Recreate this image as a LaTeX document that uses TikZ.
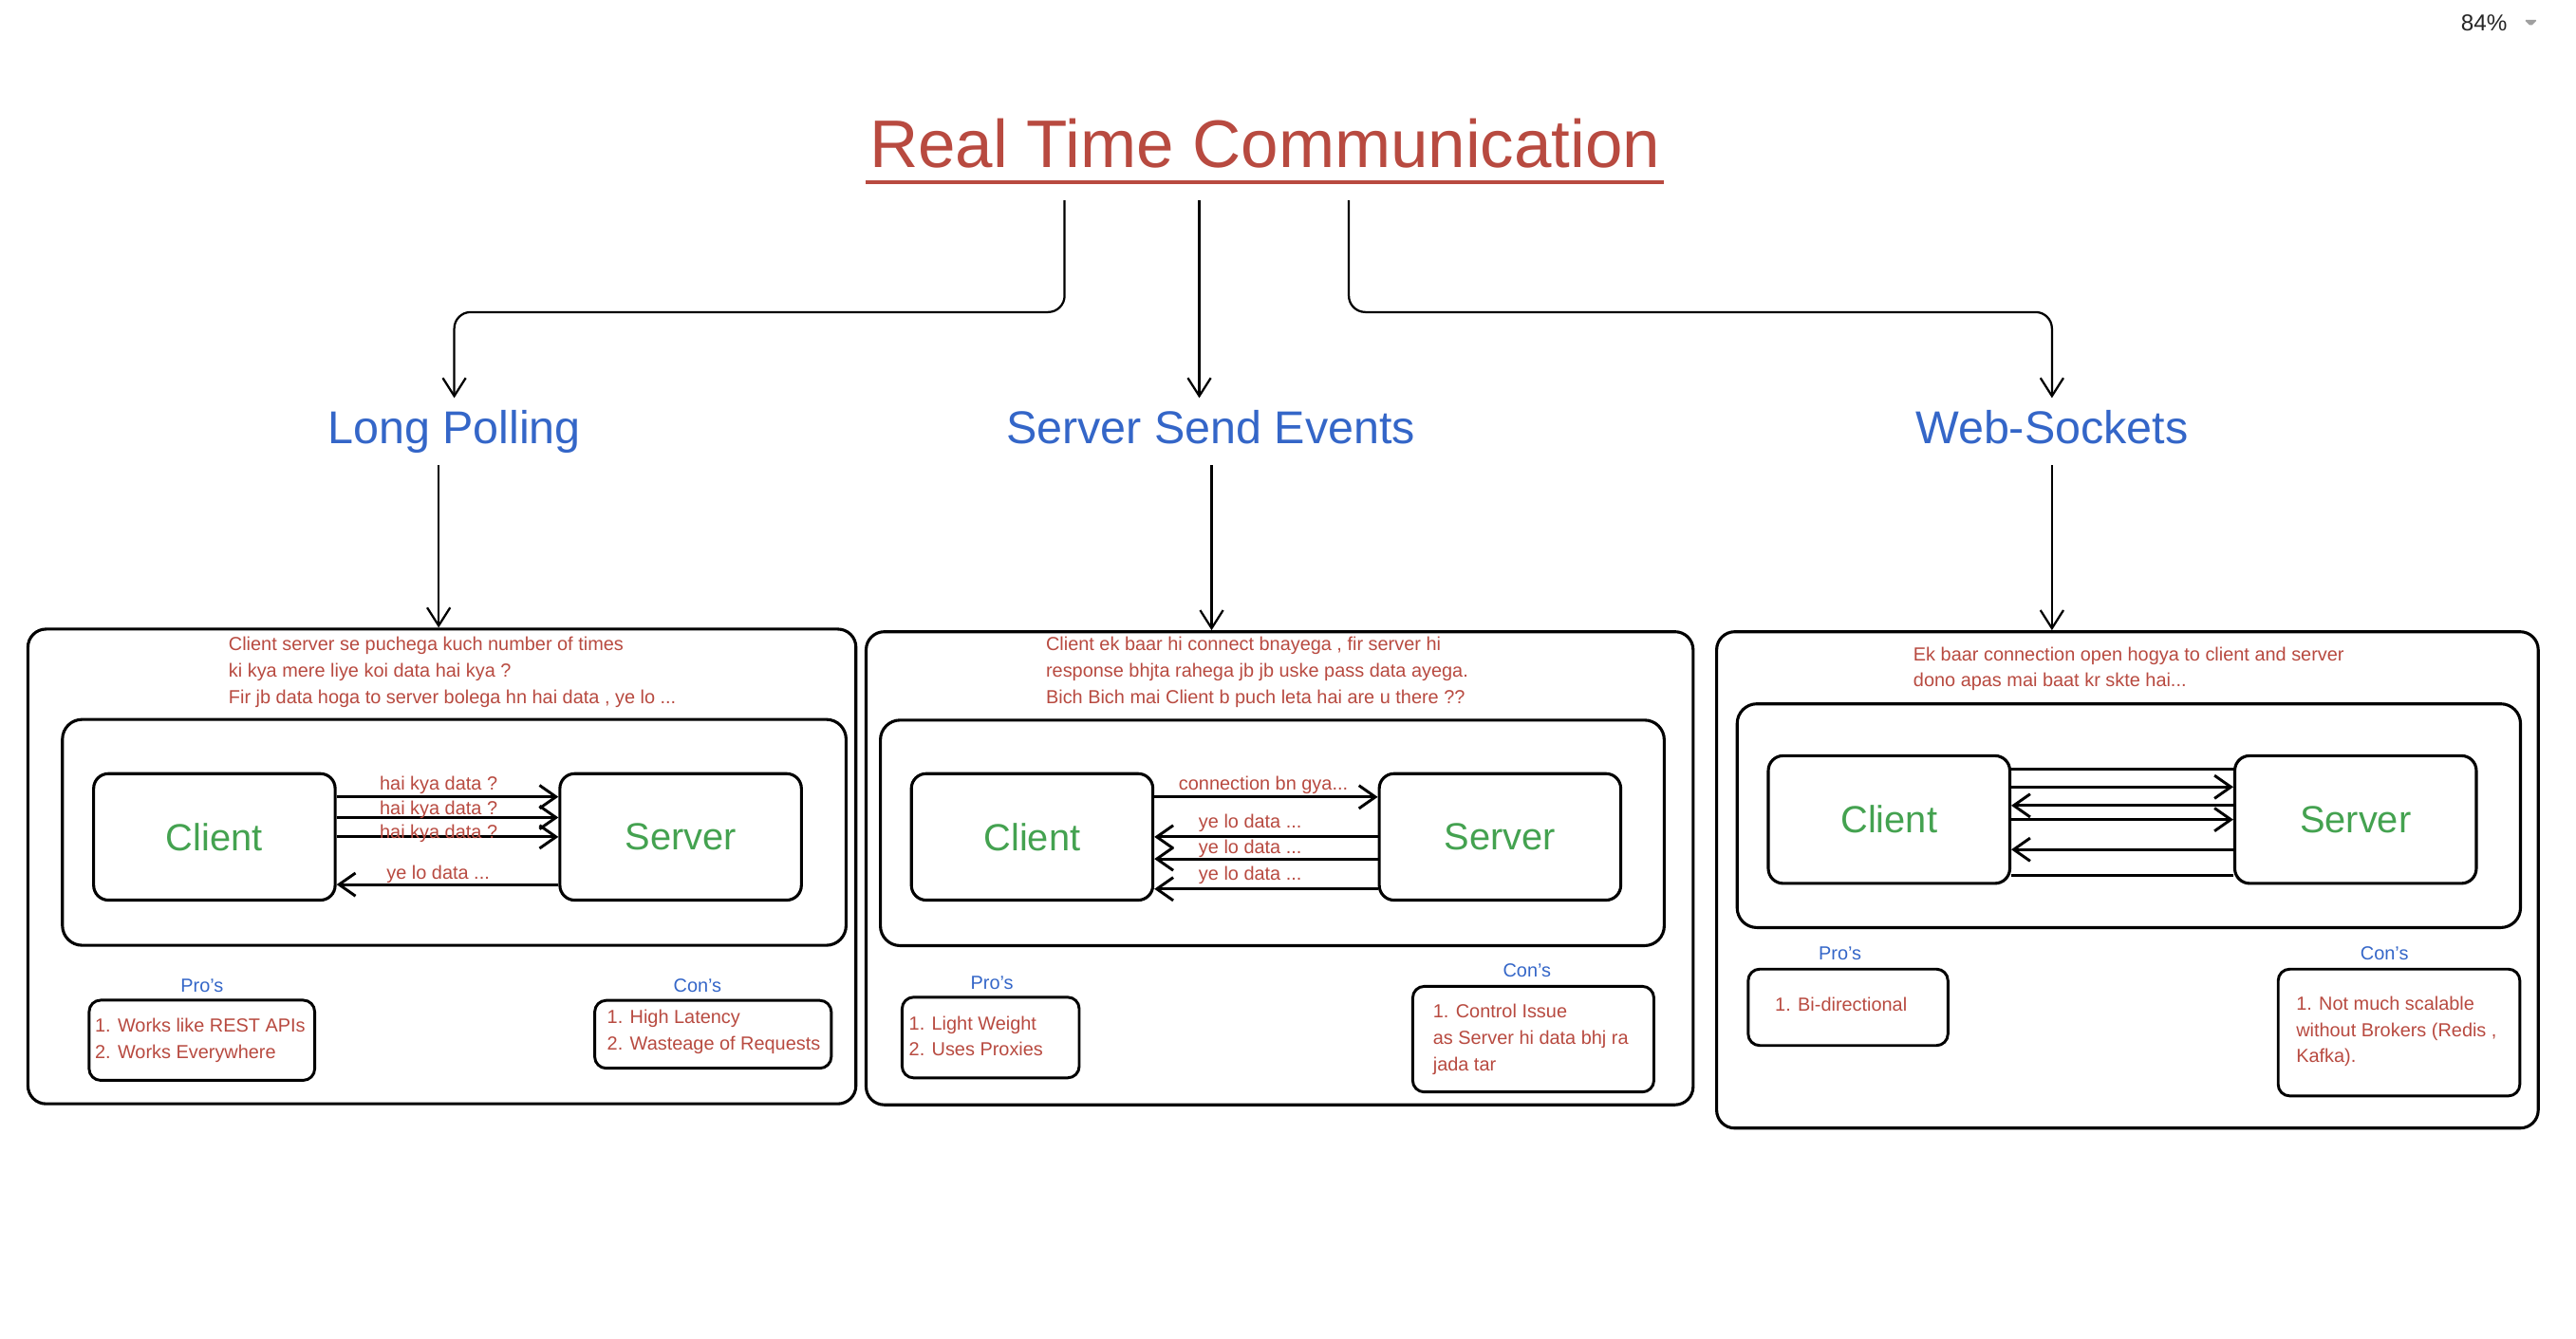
\documentclass[tikz,border=0pt]{standalone}
\usepackage{fontspec}
\setmainfont{Liberation Sans}
\usetikzlibrary{arrows.meta}
\definecolor{myred}{RGB}{184,74,64}
\definecolor{myblue}{RGB}{52,102,200}
\definecolor{mygreen}{RGB}{68,162,80}
\definecolor{uigray}{RGB}{160,160,160}
\tikzset{
  ttl/.style={font=\fontsize{41}{49}\selectfont, text=myred, inner sep=0pt},
  head/.style={font=\fontsize{28}{34}\selectfont, text=myblue, inner sep=7pt, text height=20.5pt, text depth=6pt},
  cs/.style={draw, line width=1.8pt, rounded corners=9pt, minimum width=147pt, minimum height=77pt, inner sep=0pt, font=\fontsize{23}{28}\selectfont, text=mygreen},
  bigbox/.style={draw, line width=1.8pt, rounded corners=11pt, inner sep=0pt},
  midbox/.style={draw, line width=1.8pt, rounded corners=12pt, inner sep=0pt},
  listbox/.style={draw, line width=1.7pt, rounded corners=7pt, inner sep=0pt},
  small/.style={font=\fontsize{11.5}{16}\selectfont, text=myred, inner sep=0pt, align=left},
  lbl/.style={font=\fontsize{11.5}{14}\selectfont, text=myred, inner sep=0pt},
  pc/.style={font=\fontsize{11.5}{14}\selectfont, text=myblue, inner sep=0pt},
  arr/.style={line width=1.7pt, -{Straight Barb[length=10pt,width=14pt]}},
  plainln/.style={line width=1.7pt},
  conn/.style={line width=1.3pt, rounded corners=10pt, -{Straight Barb[length=11pt,width=14pt]}},
}
\begin{document}
\begin{tikzpicture}[x=1pt, y=-1pt]
\fill[white] (0,0) rectangle (1568,815);
\useasboundingbox (0,0) rectangle (1568,815);

% UI zoom indicator
\node[font=\fontsize{14}{16}\selectfont, text=black!85, inner sep=0pt, anchor=base] (zoomtxt) at (1512,19) {84\%};
\fill[uigray, rounded corners=1pt] (1536.5,12) -- (1544.5,12) -- (1540.5,16) -- cycle;

% Title
\node[ttl, anchor=base] (title) at (770,102) {Real Time Communication};
\draw[myred, line width=2.6pt] (527,111) -- (1013,111);

% Headings
\node[head, anchor=base] (lp) at (276.5,270) {Long Polling};
\node[head, anchor=base] (sse) at (737,270) {Server Send Events};
\node[head, anchor=base] (ws) at (1249,270) {Web-Sockets};

\coordinate (t1) at (648,122);
\coordinate (t2) at (730,122);
\coordinate (t3) at (821,122);
\draw[conn] (t1) -- (648,190) -- (276.5,190) -- (lp.north);
\draw[conn] (t2) -- (t2 |- sse.north);
\draw[conn] (t3) -- (821,190) -- (1249,190) -- (ws.north);

% ================= Long Polling =================
\node[bigbox, minimum width=504pt, minimum height=289pt] (lpbox) at (269,527.5) {};
\node[small, anchor=base west] (lpdesc) at (139,428.1) {Client server se puchega kuch number of times\\ki kya mere liye koi data hai kya ?\\Fir jb data hoga to server bolega hn hai data , ye lo ...};
\node[midbox, minimum width=477pt, minimum height=137.5pt] (lpin) at (276.5,506.75) {};
\node[cs] (lpc) at (130.5,509.5) {Client};
\node[cs] (lps) at (414.3,509.5) {Server};
\draw[arr] ([yshift=24.4pt]lpc.east) -- ([yshift=24.4pt]lps.west);
\draw[arr] ([yshift=11.8pt]lpc.east) -- ([yshift=11.8pt]lps.west);
\draw[arr] (lpc.east) -- (lps.west);
\draw[arr] ([yshift=-29pt]lps.west) -- ([yshift=-29pt]lpc.east);
\node[lbl, anchor=mid] (lpl1) at (267,478.2) {hai kya data ?};
\node[lbl, anchor=mid] (lpl2) at (267,493.5) {hai kya data ?};
\node[lbl, anchor=mid] (lpl3) at (267,508) {hai kya data ?};
\node[lbl, anchor=mid] (lpl4) at (266.7,532.5) {ye lo data ...};
\node[pc] (lppro) at (123,600) {Pro's};
\node[listbox, minimum width=137.3pt, minimum height=48.8pt] (lpprobox) at (122.9,633.3) {};
\node[small, anchor=base west] (lpprotxt) at (57.6,644.3) {1. Works like REST APIs\\2. Works Everywhere};
\node[pc] (lpcon) at (424.6,600) {Con's};
\node[listbox, minimum width=144pt, minimum height=41.3pt] (lpconbox) at (434,629.7) {};
\node[small, anchor=base west] (lpcontxt) at (369.4,639.3) {1. High Latency\\2. Wasteage of Requests};
\draw[conn, rounded corners=0pt] ([xshift=-9.5pt]lp.south) -- ([xshift=-9.5pt]lp.south |- lpbox.north);

% ================= Server Send Events =================
\node[bigbox, minimum width=503.4pt, minimum height=288pt] (ssebox) at (778.9,528.6) {};
\node[small, anchor=base west] (ssedesc) at (636.5,428.1) {Client ek baar hi connect bnayega , fir server hi\\response bhjta rahega jb jb uske pass data ayega.\\Bich Bich mai Client b puch leta hai are u there ??};
\node[midbox, minimum width=477.1pt, minimum height=137.3pt] (ssein) at (774.45,507.05) {};
\node[cs] (ssec) at (628.25,509.5) {Client};
\node[cs] (sses) at (913.05,509.5) {Server};
\draw[arr] ([yshift=24.3pt]ssec.east) -- ([yshift=24.3pt]sses.west);
\draw[arr] (sses.west) -- (ssec.east);
\draw[arr] ([yshift=-13.4pt]sses.west) -- ([yshift=-13.4pt]ssec.east);
\draw[arr] ([yshift=-31.7pt]sses.west) -- ([yshift=-31.7pt]ssec.east);
\node[lbl, anchor=mid] (ssel1) at (769,478.2) {connection bn gya...};
\node[lbl, anchor=mid] (ssel2) at (761,501.5) {ye lo data ...};
\node[lbl, anchor=mid] (ssel3) at (761,517.3) {ye lo data ...};
\node[lbl, anchor=mid] (ssel4) at (761,533.4) {ye lo data ...};
\node[pc] (ssepro) at (603.8,598.2) {Pro's};
\node[listbox, minimum width=107.8pt, minimum height=49.1pt] (sseprobox) at (603,631.65) {};
\node[small, anchor=base west] (sseprotxt) at (553.1,642.9) {1. Light Weight\\2. Uses Proxies};
\node[pc] (ssecon) at (929.5,591) {Con's};
\node[listbox, minimum width=146.8pt, minimum height=64.3pt] (sseconbox) at (933.3,632.65) {};
\node[small, anchor=base west] (ssecontxt) at (872.1,651.9) {1. Control Issue\\as Server hi data bhj ra\\jada tar};
\draw[conn, rounded corners=0pt] ([xshift=0.5pt]sse.south) -- ([xshift=0.5pt]sse.south |- ssebox.north);

% ================= Web-Sockets =================
\node[bigbox, minimum width=500.1pt, minimum height=302.2pt] (wsbox) at (1294.95,535.7) {};
\node[small, anchor=base west] (wsdesc) at (1164.5,418.1) {Ek baar connection open hogya to client and server\\dono apas mai baat kr skte hai...};
\node[midbox, minimum width=476.8pt, minimum height=136.2pt] (wsin) at (1295.8,496.6) {};
\node[cs, minimum height=77.7pt] (wsc) at (1149.85,498.95) {Client};
\node[cs, minimum height=77.7pt] (wss) at (1433.8,498.95) {Server};
\draw[plainln] ([yshift=30.65pt]wsc.east) -- ([yshift=30.65pt]wss.west);
\draw[arr] ([yshift=19.85pt]wsc.east) -- ([yshift=19.85pt]wss.west);
\draw[arr] ([yshift=8.55pt]wss.west) -- ([yshift=8.55pt]wsc.east);
\draw[arr] (wsc.east) -- (wss.west);
\draw[arr] ([yshift=-18.25pt]wss.west) -- ([yshift=-18.25pt]wsc.east);
\draw[plainln] ([yshift=-33.75pt]wsc.east) -- ([yshift=-33.75pt]wss.west);
\node[pc] (wspro) at (1120,580.6) {Pro's};
\node[listbox, minimum width=121.6pt, minimum height=46.5pt] (wsprobox) at (1124.9,613.25) {};
\node[small, anchor=base west] (wsprotxt) at (1080.3,615.6) {1. Bi-directional};
\node[pc] (wscon) at (1451.4,580.6) {Con's};
\node[listbox, minimum width=147.1pt, minimum height=77.2pt] (wsconbox) at (1460.25,628.6) {};
\node[small, anchor=base west] (wscontxt) at (1397.5,647) {1. Not much scalable\\without Brokers (Redis ,\\Kafka).};
\draw[conn, rounded corners=0pt] (ws.south) -- (ws.south |- wsbox.north);
\end{tikzpicture}
\end{document}
